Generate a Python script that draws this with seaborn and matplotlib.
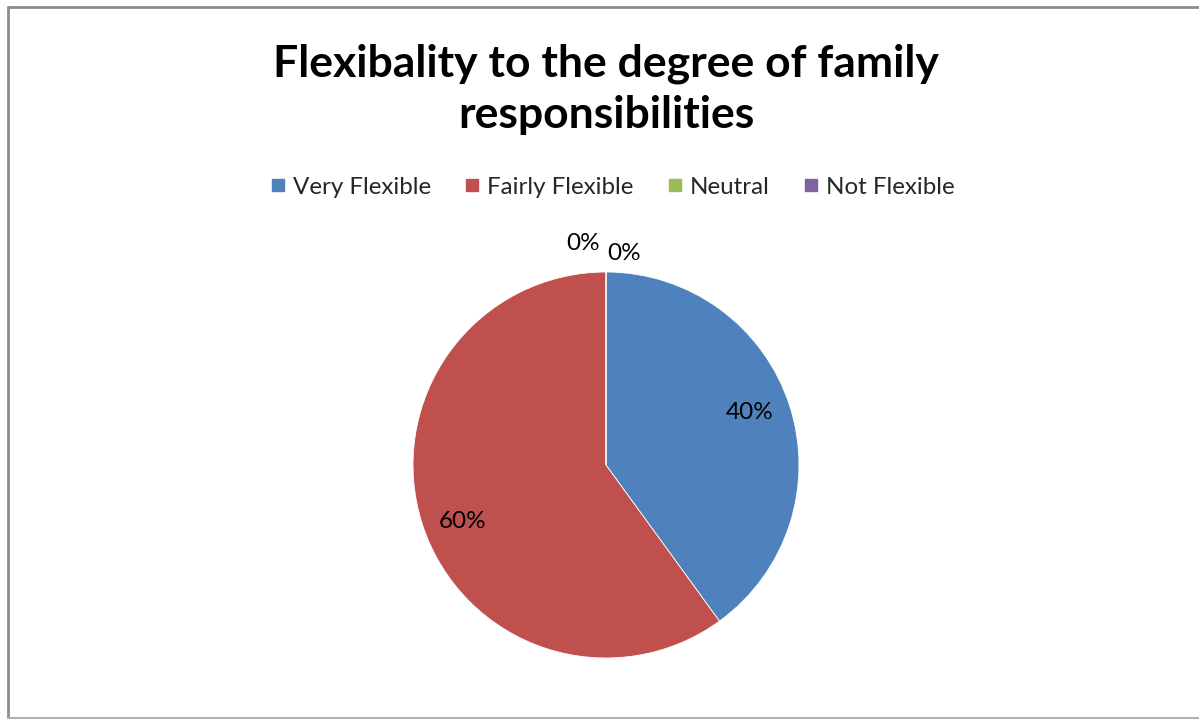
import matplotlib
matplotlib.use("Agg")
import numpy as np
import matplotlib.pyplot as plt
import seaborn as sns
from matplotlib.lines import Line2D

categories = ["Very Flexible", "Fairly Flexible", "Neutral", "Not Flexible"]
values = [40, 60, 0, 0]
colors = ["#4F81BD", "#C0504D", "#9BBB59", "#8064A2"]
title = "Flexibality to the degree of family\nresponsibilities"

sns.set_theme(style="white")
plt.rcParams['font.family'] = ['Lato', 'DejaVu Sans']

W, H = 1199, 719
fig = plt.figure(figsize=(W / 100, H / 100), dpi=100)
fig.patch.set_facecolor("white")

# outer border (top, left, bottom)
fig.lines.append(Line2D([8 / W, 1.0], [1 - 7 / H, 1 - 7 / H], transform=fig.transFigure,
                        color="#8c8c8c", linewidth=2))
fig.lines.append(Line2D([8 / W, 8 / W], [1 - 7 / H, 1 - 717.5 / H], transform=fig.transFigure,
                        color="#8c8c8c", linewidth=2))
fig.lines.append(Line2D([8 / W, 1.0], [1 - 717.5 / H, 1 - 717.5 / H], transform=fig.transFigure,
                        color="#b0b0b0", linewidth=1.5))

cx, cy, r = 606, 465, 193
ax = fig.add_axes([(cx - r) / W, (H - cy - r) / H, 2 * r / W, 2 * r / H])

wedges, texts, autotexts = ax.pie(
    values, colors=colors, startangle=90, counterclock=False,
    autopct=lambda p: f"{p:.0f}%" if p > 0 else "",
    pctdistance=0.79, radius=1.0,
    textprops=dict(fontsize=17.5, color="black"),
    wedgeprops=dict(linewidth=0.6, edgecolor="white"))
ax.set_xlim(-1, 1)
ax.set_ylim(-1, 1)
ax.set_aspect("equal")
ax.axis("off")

# nudge labels along their wedges to match the reference placement
label_angles = {0: 20.0, 1: 201.5}
label_radii = {0: 0.79, 1: 0.80}
for i, t in enumerate(autotexts):
    if i in label_angles:
        a = np.deg2rad(label_angles[i])
        t.set_position((label_radii[i] * np.cos(a), label_radii[i] * np.sin(a)))

# zero-value labels outside the top of the pie
zero_offsets = [(-23, 29), (18, 19)]
zi = 0
for v in values:
    if v == 0:
        dx, dy = zero_offsets[zi]
        ax.annotate("0%", xy=(0, 1), xytext=(dx * 0.72, dy * 0.72), textcoords="offset points",
                    ha="center", va="center", fontsize=17.5, color="black", annotation_clip=False)
        zi += 1

fig.text(606 / W, 1 - 89 / H, title, ha="center", va="center", fontsize=32,
         fontweight="bold", color="black", linespacing=1.32)

handles = [Line2D([], [], marker="s", linestyle="none", markersize=8.6,
                  markerfacecolor=c, markeredgecolor=c) for c in colors]
fig.legend(handles, categories, loc="center", bbox_to_anchor=(610 / W, 1 - 187 / H),
           ncol=4, frameon=False, fontsize=17.4, handletextpad=0.12, columnspacing=1.2,
           handlelength=1.0)

fig.savefig("out.png", dpi=100, facecolor="white")
